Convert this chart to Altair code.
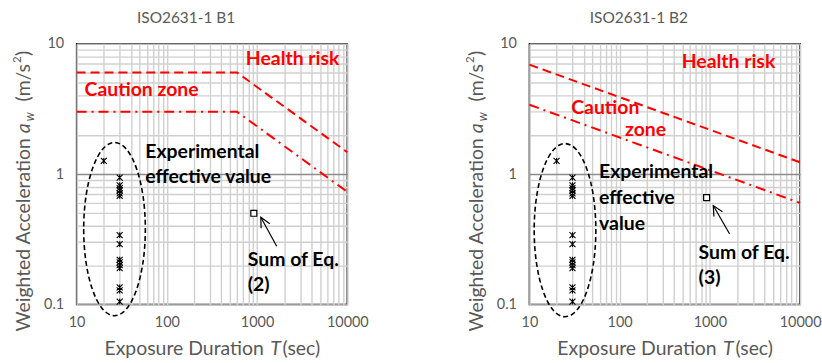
import altair as alt
import pandas as pd

# ---------------- data ----------------
exp_T = [20, 30, 30, 30, 30, 30, 30, 30, 30, 30, 30, 30, 30, 30, 30, 30]
exp_a = [1.26, 0.94, 0.82, 0.78, 0.75, 0.71, 0.68, 0.34, 0.29,
         0.22, 0.21, 0.20, 0.19, 0.135, 0.128, 0.105]

b1_T = [10, 600, 10000]
b1_health = [6.0, 6.0, 1.47]
b1_caution = [3.0, 3.0, 0.73]

b2_T = [10, 10000]
b2_health = [6.9, 1.23]
b2_caution = [3.4, 0.60]

sum_T = [920]
b1_sum = [0.50]
b2_sum = [0.66]

x_labels = [10, 100, 1000, 10000]
y_labels = [0.1, 1, 10]
x_grid = [m * d for d in (10, 100, 1000) for m in range(1, 10)] + [10000]
y_grid = [round(m * d, 3) for d in (0.1, 1) for m in range(1, 10)] + [10]

GRAY = "#595959"
RED = "#FF0000"
FONT = "Lato"
TFS = 19.5   # axis title font size
AFS = 19.5   # annotation font size

xs = alt.Scale(type="log", domain=[10, 10000], nice=False)
ys = alt.Scale(type="log", domain=[0.1, 10], nice=False)

x_axis = alt.Axis(values=x_grid, format="~g",
                  labelExpr="indexof([10,100,1000,10000], datum.value) >= 0 ? datum.label : ''",
                  ticks=False, domain=False, grid=True, gridColor="#d0d0d0", gridWidth=1.4,
                  labelFont=FONT, labelFontSize=14.5, labelColor=GRAY, labelPadding=11,
                  labelFlush=False, labelOverlap=False, title=None)
y_axis = alt.Axis(values=y_grid, format="~g",
                  labelExpr="indexof([0.1,1,10], datum.value) >= 0 ? datum.label : ''",
                  ticks=False, domain=False, grid=True,
                  gridColor={"condition": {"test": "datum.value == 1", "value": "#8c8c8c"},
                             "value": "#d0d0d0"},
                  gridWidth=1.4,
                  labelFont=FONT, labelFontSize=14.5, labelColor=GRAY, labelPadding=13,
                  labelFlush=False, labelOverlap=False, title=None)

ARROW = "M -0.45 0.9 L 0 0 L 0.45 0.9"
ELLIPSE = "M -0.356 0 A 0.356 1 0 1 0 0.356 0 A 0.356 1 0 1 0 -0.356 0 Z"
STAR = "M -1 -1 L 1 1 M -1 1 L 1 -1 M 0 -1 L 0 1"


def txt(s, x, y, size, color, bold=False, italic=False, angle=0, align="left"):
    return alt.Chart(pd.DataFrame({"t": [s]})).mark_text(
        align=align, baseline="middle", font=FONT, fontSize=size,
        fontWeight="bold" if bold else "normal",
        fontStyle="italic" if italic else "normal",
        color=color, angle=angle
    ).encode(x=alt.value(x), y=alt.value(y), text="t:N")


def panel(title, T, health, caution, sum_a, arrow, ellipse, notes, corner=False):
    base_x = alt.X("T:Q", scale=xs, axis=x_axis)
    base_y = alt.Y("a:Q", scale=ys, axis=y_axis)

    health_df = pd.DataFrame({"T": T, "a": health})
    caution_df = pd.DataFrame({"T": T, "a": caution})
    exp_df = pd.DataFrame({"T": exp_T, "a": exp_a})
    sum_df = pd.DataFrame({"T": sum_T, "a": sum_a})

    l_health = alt.Chart(health_df).mark_line(color=RED, strokeWidth=2, strokeDash=[9, 5]).encode(
        x=base_x, y=base_y)
    l_caution = alt.Chart(caution_df).mark_line(color=RED, strokeWidth=2, strokeDash=[10, 5, 2, 5]).encode(
        x=base_x, y=base_y)
    pts = alt.Chart(exp_df).mark_point(shape=STAR, size=36, filled=False, color="black",
                                       strokeWidth=1.1, opacity=1).encode(x=base_x, y=base_y)
    sq = alt.Chart(sum_df).mark_point(shape="square", size=36, filled=True, fill="white",
                                      stroke="black", strokeWidth=1.2, opacity=1).encode(x=base_x, y=base_y)

    (tx, ty, hx, hy, ang) = arrow
    arr_df = pd.DataFrame({"T": [tx], "a": [ty], "T2": [hx], "a2": [hy]})
    shaft = alt.Chart(arr_df).mark_rule(color="black", strokeWidth=1.2).encode(
        x=alt.X("T:Q", scale=xs), y=alt.Y("a:Q", scale=ys), x2="T2:Q", y2="a2:Q")
    head = alt.Chart(arr_df).mark_point(shape=ARROW, size=484, filled=False, color="black",
                                        strokeWidth=1.2, opacity=1, angle=ang).encode(
        x=alt.X("T2:Q", scale=xs), y=alt.Y("a2:Q", scale=ys))

    (ex, ey) = ellipse
    ell = alt.Chart(pd.DataFrame({"T": [ex], "a": [ey]})).mark_point(
        shape=ELLIPSE, size=30276, filled=False, color="black", strokeWidth=1.6,
        strokeDash=[5, 3], opacity=1).encode(x=alt.X("T:Q", scale=xs), y=alt.Y("a:Q", scale=ys))

    layers = [l_health, l_caution, ell, pts, sq, shaft, head]

    # annotations
    for (s, x, y, c) in notes:
        layers.append(txt(s, x, y, AFS, c, bold=True))

    # panel title
    layers.append(txt(title, 110, -26, 15.5, GRAY, align="center"))

    # y title (rotated, composed of pieces)
    layers.append(txt("Weighted Acceleration", -53, 95, TFS, GRAY, angle=270, align="right"))
    layers.append(txt("a", -53, 90, TFS, GRAY, italic=True, angle=270))
    layers.append(txt("w", -47, 78, 12.5, GRAY, italic=True, angle=270))
    layers.append(txt("(m/s", -53, 58, TFS, GRAY, angle=270))
    layers.append(txt("2", -59, 19.5, 11.5, GRAY, angle=270))
    layers.append(txt(")", -53, 12.5, TFS, GRAY, angle=270))

    # x title
    layers.append(txt("Exposure Duration", 28, 307, TFS, GRAY))
    layers.append(txt("T", 194.5, 307, TFS, GRAY, italic=True))
    layers.append(txt("(sec)", 207, 307, TFS, GRAY))

    if corner:
        layers.append(alt.Chart(pd.DataFrame({"k": [0]})).mark_rule(opacity=0, strokeWidth=0.01).encode(
            x=alt.value(-76), x2=alt.value(-75), y=alt.value(-42), y2=alt.value(-42)))

    return alt.layer(*layers).properties(width=272, height=262)


left = panel(
    "ISO2631-1 B1", b1_T, b1_health, b1_caution, b1_sum,
    (1650, 0.279, 1100, 0.466, 332), (26.3, 0.378),
    [("Health risk", 170, 15, RED), ("Caution zone", 8, 47, RED),
     ("Experimental", 69, 109, "black"), ("effective value", 69, 134, "black"),
     ("Sum of Eq.", 172, 217, "black"), ("(2)", 172, 243, "black")],
    corner=True)

right = panel(
    "ISO2631-1 B2", b2_T, b2_health, b2_caution, b2_sum,
    (1650, 0.348, 1090, 0.573, 330), (24.8, 0.371),
    [("Health risk", 153, 18, RED), ("Caution", 42, 65, RED), ("zone", 96, 87, RED),
     ("Experimental", 70, 129, "black"), ("effective", 70, 155, "black"), ("value", 70, 181, "black"),
     ("Sum of Eq.", 170, 210, "black"), ("(3)", 170, 236, "black")])

chart = alt.hconcat(left, right, spacing=183, bounds="flush").properties(
    padding=0, background="white"
).configure_view(stroke="black", strokeWidth=1.5)

chart.save("out.html", embed_options={"renderer": "svg", "actions": False})
